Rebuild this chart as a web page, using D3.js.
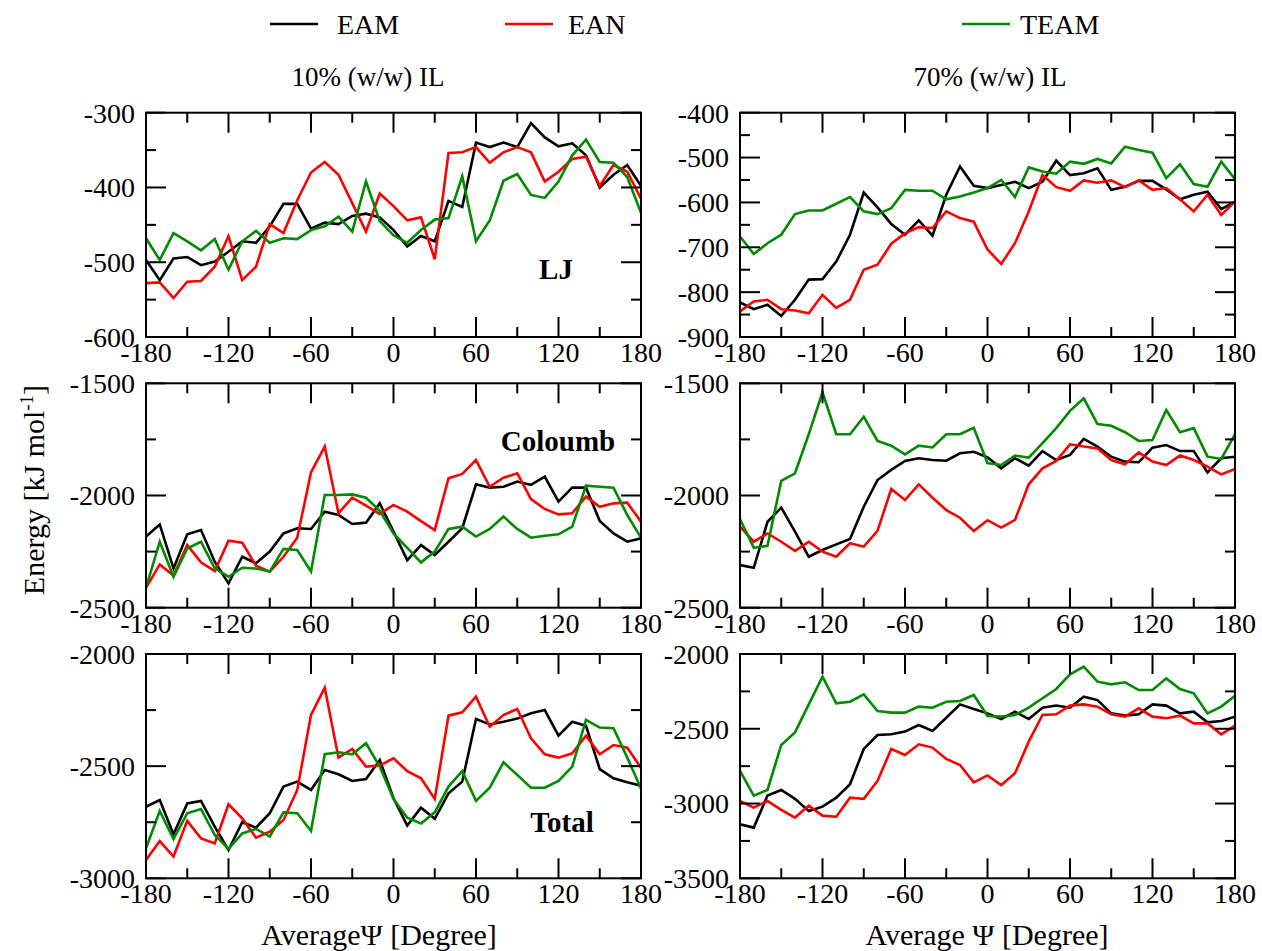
<!DOCTYPE html>
<html>
<head>
<meta charset="utf-8">
<script src="https://cdn.jsdelivr.net/npm/d3@7"></script>
<style>
  html, body { margin: 0; padding: 0; background: #fff; }
  svg { display: block; }
  text { font-family: "Liberation Serif", "Times New Roman", serif; fill: #000; }
</style>
</head>
<body>
<svg id="chart" width="1262" height="951"></svg>
<script>
// ---------------- DATA ----------------
const angles = [-180,-170,-160,-150,-140,-130,-120,-110,-100,-90,-80,-70,-60,-50,-40,-30,-20,-10,
                0,10,20,30,40,50,60,70,80,90,100,110,120,130,140,150,160,170,180];
const seriesNames = ["EAM", "EAN", "TEAM"];
const xTickLabels = [-180,-120,-60,0,60,120,180];

// LJ, 10% (w/w) IL
const lj10_EAM  = [-497,-524,-495,-493,-504,-499,-486,-472,-474,-452,-422,-422,-455,-447,-449,-438,-435,-440,-457,-479,-465,-472,-418,-426,-340,-346,-340,-346,-314,-333,-345,-341,-357,-400,-383,-370,-398];
const lj10_EAN  = [-528,-527,-548,-526,-525,-506,-465,-524,-506,-449,-461,-417,-380,-366,-383,-421,-459,-408,-425,-444,-440,-496,-354,-353,-346,-367,-353,-346,-353,-392,-379,-362,-359,-398,-370,-379,-415];
const lj10_TEAM = [-468,-497,-461,-472,-484,-469,-510,-472,-458,-474,-468,-469,-457,-452,-439,-459,-392,-445,-464,-474,-457,-443,-441,-385,-472,-444,-391,-382,-410,-414,-392,-357,-336,-366,-367,-386,-434];
// LJ, 70% (w/w) IL
const lj70_EAM  = [-823,-838,-828,-853,-817,-772,-771,-732,-672,-578,-611,-648,-672,-640,-674,-583,-520,-563,-568,-561,-554,-568,-554,-507,-539,-535,-524,-572,-565,-552,-552,-571,-593,-583,-576,-615,-598];
const lj70_EAN  = [-843,-821,-817,-838,-841,-847,-806,-835,-817,-750,-739,-692,-669,-655,-657,-620,-635,-643,-705,-737,-691,-620,-539,-566,-574,-551,-556,-551,-566,-551,-572,-568,-593,-620,-583,-628,-598];
const lj70_TEAM = [-676,-715,-691,-672,-626,-618,-618,-603,-588,-620,-626,-613,-572,-574,-574,-593,-587,-578,-568,-550,-588,-522,-531,-536,-509,-514,-503,-513,-476,-483,-489,-546,-515,-559,-565,-509,-548];
// Coulomb, 10% (w/w) IL
const co10_EAM  = [-2183,-2129,-2325,-2173,-2154,-2295,-2392,-2273,-2302,-2250,-2169,-2146,-2149,-2072,-2087,-2127,-2121,-2035,-2161,-2288,-2221,-2265,-2206,-2146,-1950,-1965,-1961,-1938,-1953,-1916,-2027,-1965,-1965,-2114,-2169,-2206,-2191];
const co10_EAN  = [-2411,-2307,-2357,-2221,-2298,-2337,-2201,-2210,-2313,-2339,-2273,-2188,-1897,-1782,-2079,-2010,-2045,-2082,-2042,-2072,-2114,-2154,-1923,-1904,-1842,-1961,-1921,-1901,-2016,-2060,-2084,-2079,-2005,-2050,-2035,-2032,-2117];
const co10_TEAM = [-2411,-2206,-2362,-2236,-2206,-2325,-2362,-2322,-2325,-2339,-2238,-2243,-2339,-1998,-1998,-1995,-2010,-2068,-2169,-2233,-2298,-2250,-2149,-2139,-2183,-2149,-2094,-2149,-2188,-2179,-2173,-2139,-1956,-1961,-1965,-2087,-2188];
// Coulomb, 70% (w/w) IL
const co70_EAM  = [-2310,-2322,-2117,-2054,-2161,-2273,-2243,-2218,-2194,-2050,-1931,-1886,-1846,-1834,-1842,-1845,-1812,-1805,-1830,-1879,-1834,-1867,-1802,-1842,-1819,-1748,-1782,-1827,-1849,-1852,-1787,-1775,-1802,-1802,-1897,-1834,-1827];
const co70_EAN  = [-2139,-2206,-2169,-2206,-2247,-2206,-2250,-2273,-2213,-2228,-2158,-1971,-2020,-1950,-2010,-2065,-2099,-2158,-2110,-2143,-2109,-1950,-1879,-1846,-1772,-1782,-1790,-1842,-1861,-1808,-1849,-1864,-1822,-1842,-1871,-1906,-1882];
const co70_TEAM = [-2105,-2233,-2224,-1935,-1901,-1727,-1540,-1727,-1727,-1649,-1757,-1778,-1817,-1778,-1786,-1727,-1727,-1698,-1855,-1864,-1822,-1831,-1767,-1700,-1623,-1567,-1682,-1689,-1718,-1757,-1753,-1619,-1718,-1700,-1827,-1837,-1727];
// Total, 10% (w/w) IL
const to10_EAM  = [-2681,-2651,-2804,-2666,-2655,-2770,-2874,-2750,-2774,-2710,-2591,-2569,-2606,-2517,-2536,-2566,-2557,-2473,-2643,-2765,-2685,-2735,-2621,-2569,-2290,-2314,-2302,-2288,-2264,-2250,-2364,-2302,-2320,-2513,-2554,-2572,-2587];
const to10_EAN  = [-2918,-2834,-2903,-2744,-2822,-2844,-2670,-2733,-2819,-2792,-2740,-2606,-2272,-2150,-2462,-2423,-2502,-2497,-2465,-2522,-2554,-2646,-2275,-2260,-2190,-2324,-2272,-2245,-2376,-2447,-2462,-2443,-2364,-2447,-2406,-2418,-2507];
const to10_TEAM = [-2866,-2700,-2825,-2710,-2691,-2807,-2869,-2800,-2780,-2814,-2706,-2710,-2789,-2447,-2438,-2447,-2398,-2502,-2646,-2730,-2756,-2706,-2591,-2522,-2655,-2596,-2483,-2539,-2596,-2596,-2566,-2502,-2294,-2328,-2331,-2462,-2599];
// Total, 70% (w/w) IL
const to70_EAM  = [-3139,-3161,-2947,-2909,-2969,-3050,-3021,-2961,-2871,-2635,-2542,-2537,-2519,-2475,-2515,-2426,-2337,-2368,-2397,-2435,-2386,-2435,-2359,-2345,-2359,-2285,-2308,-2397,-2412,-2403,-2337,-2345,-2397,-2386,-2457,-2448,-2419];
const to70_EAN  = [-2983,-3027,-2983,-3043,-3094,-3014,-3081,-3088,-2961,-2969,-2849,-2635,-2675,-2604,-2626,-2702,-2742,-2858,-2812,-2876,-2798,-2586,-2408,-2403,-2345,-2337,-2352,-2403,-2419,-2363,-2419,-2430,-2412,-2464,-2464,-2537,-2479];
const to70_TEAM = [-2782,-2947,-2909,-2608,-2524,-2337,-2152,-2330,-2319,-2270,-2381,-2392,-2392,-2352,-2359,-2319,-2314,-2274,-2415,-2419,-2408,-2359,-2296,-2234,-2136,-2085,-2185,-2203,-2189,-2241,-2241,-2163,-2234,-2263,-2397,-2352,-2279];

const lj10Ticks = [-600,-500,-400,-300];
const lj70Ticks = [-900,-800,-700,-600,-500,-400];
const coTicks   = [-2500,-2000,-1500];
const to10Ticks = [-3000,-2500,-2000];
const to70Ticks = [-3500,-3000,-2500,-2000];

// ---------------- LAYOUT ----------------
const colors = {EAM: "#000000", EAN: "#ff0000", TEAM: "#008b00"};
const svg = d3.select("#chart");
const cols = [[146, 641], [740, 1235]];
const rows = [[112.7, 337], [383.3, 607.7], [654, 878.3]];

const panels = [
  {c:0, r:0, dom:[-600,-300], ticks:lj10Ticks, minor:50, data:[lj10_EAM, lj10_EAN, lj10_TEAM], label:"LJ", lx:556, ly:279},
  {c:1, r:0, dom:[-900,-400], ticks:lj70Ticks, minor:50, data:[lj70_EAM, lj70_EAN, lj70_TEAM]},
  {c:0, r:1, dom:[-2500,-1500], ticks:coTicks, minor:250, data:[co10_EAM, co10_EAN, co10_TEAM], label:"Coloumb", lx:558, ly:451},
  {c:1, r:1, dom:[-2500,-1500], ticks:coTicks, minor:250, data:[co70_EAM, co70_EAN, co70_TEAM]},
  {c:0, r:2, dom:[-3000,-2000], ticks:to10Ticks, minor:250, data:[to10_EAM, to10_EAN, to10_TEAM], label:"Total", lx:562, ly:832},
  {c:1, r:2, dom:[-3500,-2000], ticks:to70Ticks, minor:250, data:[to70_EAM, to70_EAN, to70_TEAM]},
];

const MAJ = 20, MIN = 10;

panels.forEach(p => {
  const [x0, x1] = cols[p.c];
  const [y0, y1] = rows[p.r];
  const x = d3.scaleLinear().domain([-180, 180]).range([x0, x1]);
  const y = d3.scaleLinear().domain(p.dom).range([y1, y0]);
  const g = svg.append("g");

  const cid = "clip" + p.c + p.r;
  g.append("clipPath").attr("id", cid).append("rect")
    .attr("x", x0).attr("y", y0).attr("width", x1 - x0).attr("height", y1 - y0);

  const line = d3.line().x((d, i) => x(angles[i])).y(d => y(d));
  p.data.forEach((arr, k) => {
    g.append("path").datum(arr)
      .attr("clip-path", `url(#${cid})`)
      .attr("d", line)
      .attr("fill", "none")
      .attr("stroke", colors[seriesNames[k]])
      .attr("stroke-width", 2.6)
      .attr("stroke-linejoin", "miter");
  });

  const tickG = g.append("g").attr("stroke", "#000").attr("stroke-width", 2);
  const xMajor = d3.range(-180, 181, 60);
  const xMinor = d3.range(-150, 181, 60);
  xMajor.forEach(v => {
    tickG.append("line").attr("x1", x(v)).attr("x2", x(v)).attr("y1", y1).attr("y2", y1 - MAJ);
    tickG.append("line").attr("x1", x(v)).attr("x2", x(v)).attr("y1", y0).attr("y2", y0 + MAJ);
  });
  xMinor.forEach(v => {
    tickG.append("line").attr("x1", x(v)).attr("x2", x(v)).attr("y1", y1).attr("y2", y1 - MIN);
    tickG.append("line").attr("x1", x(v)).attr("x2", x(v)).attr("y1", y0).attr("y2", y0 + MIN);
  });
  const majStep = p.ticks[1] - p.ticks[0];
  p.ticks.forEach(v => {
    tickG.append("line").attr("x1", x0).attr("x2", x0 + MAJ).attr("y1", y(v)).attr("y2", y(v));
    tickG.append("line").attr("x1", x1).attr("x2", x1 - MAJ).attr("y1", y(v)).attr("y2", y(v));
  });
  d3.range(p.dom[0] + p.minor, p.dom[1], majStep).forEach(v => {
    tickG.append("line").attr("x1", x0).attr("x2", x0 + MIN).attr("y1", y(v)).attr("y2", y(v));
    tickG.append("line").attr("x1", x1).attr("x2", x1 - MIN).attr("y1", y(v)).attr("y2", y(v));
  });

  g.append("rect").attr("x", x0).attr("y", y0).attr("width", x1 - x0).attr("height", y1 - y0)
    .attr("fill", "none").attr("stroke", "#000").attr("stroke-width", 2);

  p.ticks.forEach(v => {
    g.append("text").attr("x", x0 - 11).attr("y", y(v)).attr("dy", "0.35em")
      .attr("text-anchor", "end").attr("font-size", 28).text(v);
  });
  xTickLabels.forEach(v => {
    g.append("text").attr("x", x(v)).attr("y", y1 + 25)
      .attr("text-anchor", "middle").attr("font-size", 28).text(v);
  });

  if (p.label) {
    g.append("text").attr("x", p.lx).attr("y", p.ly).attr("text-anchor", "middle")
      .attr("font-size", 29).attr("font-weight", "bold").text(p.label);
  }
});

// legend
const legendPos = [{lx:270, tx:337}, {lx:505, tx:568}, {lx:962, tx:1020}];
seriesNames.forEach((n, i) => {
  const lp = legendPos[i];
  svg.append("line").attr("x1", lp.lx).attr("x2", lp.lx + 48).attr("y1", 24).attr("y2", 24)
    .attr("stroke", colors[n]).attr("stroke-width", 2.6);
  svg.append("text").attr("x", lp.tx).attr("y", 34).attr("font-size", 28).text(n);
});

// column titles
svg.append("text").attr("x", 368).attr("y", 86).attr("text-anchor", "middle").attr("font-size", 27).text("10% (w/w) IL");
svg.append("text").attr("x", 990).attr("y", 86).attr("text-anchor", "middle").attr("font-size", 27).text("70% (w/w) IL");

// y axis title
const yt = svg.append("text").attr("transform", "translate(44,490) rotate(-90)")
  .attr("text-anchor", "middle").attr("font-size", 30);
yt.append("tspan").text("Energy [kJ mol");
yt.append("tspan").attr("font-size", 19).attr("dy", -11).text("-1");
yt.append("tspan").attr("dy", 11).text("]");

// x axis titles
svg.append("text").attr("x", 379).attr("y", 945).attr("text-anchor", "middle").attr("font-size", 30).text("AverageΨ [Degree]");
svg.append("text").attr("x", 987).attr("y", 945).attr("text-anchor", "middle").attr("font-size", 30).text("Average Ψ [Degree]");
</script>
</body>
</html>
